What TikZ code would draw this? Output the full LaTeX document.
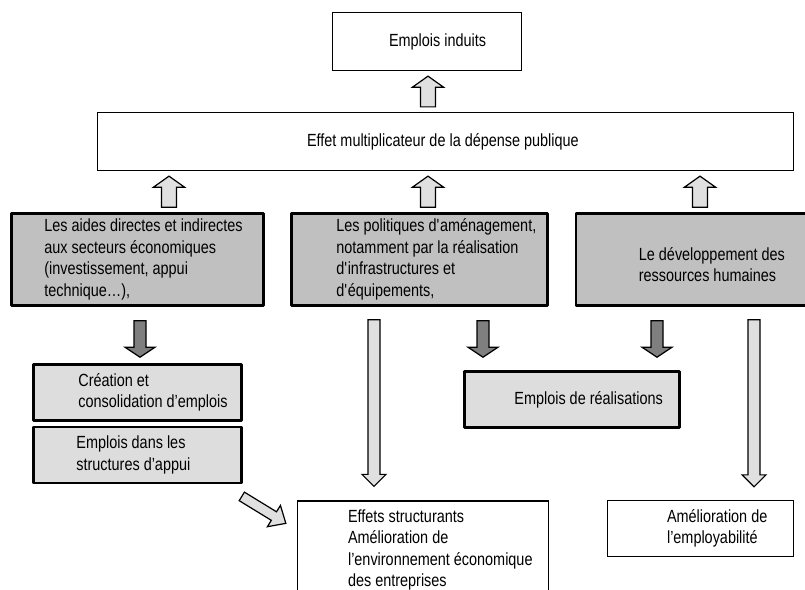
\documentclass[tikz,border=0pt]{standalone}
\usepackage{fontspec}
\setmainfont{Liberation Sans}[FakeStretch=0.82]
\usetikzlibrary{positioning,calc}
\definecolor{grisfonce}{HTML}{C0C0C0}
\definecolor{grisclair}{HTML}{DDDDDD}
\definecolor{flecheclair}{HTML}{E0E0E0}
\definecolor{flechefonce}{HTML}{7F7F7F}
\tikzset{
	%Define style for the framed boxes
	cadre/.style={
		rectangle,
		draw=black, line width=2.6pt,
		line join=round,
		fill=grisfonce},
	cadreclair/.style={cadre, fill=grisclair},
	blanc/.style={
		rectangle,
		draw=black, line width=1.3pt,
		fill=white},
	% Define style for the texts
	texte/.style={
		inner sep=0pt,
		align=left,
		font=\fontsize{17.6pt}{21.5pt}\selectfont},
	% Define style for the block arrows
	fleche/.style={
		draw=black, line width=1.2pt,
		line join=miter,
		fill=flecheclair},
	fleche fonce/.style={fleche, fill=flechefonce}
}
% block arrow: style, from, to, half shaft, half head, head length
\newcommand{\blocfleche}[6]{%
	\coordinate (ba) at (#2);
	\coordinate (bb) at (#3);
	\coordinate (bh) at ($(bb)!#6!(ba)$);
	\path[#1] ($(ba)!#4!90:(bb)$) -- ($(bh)!#4!90:(bb)$) -- ($(bh)!#5!90:(bb)$) -- (bb)
		-- ($(bh)!#5!-90:(bb)$) -- ($(bh)!#4!-90:(bb)$) -- ($(ba)!#4!-90:(bb)$) -- cycle;}

\begin{document}
\begin{tikzpicture}[x=1pt, y=-1pt]
	\clip (0,0) rectangle (805,589);

	\node[blanc, minimum width=189pt, minimum height=58pt] (induits) at (427,41.5) {};
	\node[texte, right = 57pt of induits.west] (induitsT) {Emplois induits};

	\node[blanc, minimum width=696pt, minimum height=58pt] (multi) at (445.5,141.5) {};
	\node[texte, right = 210pt of multi.west] (multiT) {Effet multiplicateur de la dépense publique};

	\node[cadre, minimum width=252pt, minimum height=92pt] (aides) at (137.5,259.5) {};
	\node[texte, right = 34pt of aides.west] (aidesT) {Les aides directes et indirectes\\ aux secteurs économiques\\ (investissement, appui\\ technique…),};

	\node[cadre, minimum width=256pt, minimum height=92pt] (polit) at (419.5,259.5) {};
	\node[texte, right = 46pt of polit.west] (politT) {Les politiques d\textquotesingle aménagement,\\ notamment par la réalisation\\ d\textquotesingle infrastructures et\\ d\textquotesingle équipements,};

	\node[cadre, minimum width=244pt, minimum height=92pt] (rh) at (698,259.5) {};
	\node[texte, right = 64pt of rh.west, yshift=-5pt] (rhT) {Le développement des\\ ressources humaines};

	\node[cadreclair, minimum width=208pt, minimum height=56pt] (creation) at (137.5,392.5) {};
	\node[texte, right = 46pt of creation.west] (creationT) {Création et\\ consolidation d’emplois};

	\node[cadreclair, minimum width=208pt, minimum height=56pt, below = 4pt of creation] (structures) {};
	\node[texte, right = 44pt of structures.west] (structuresT) {Emplois dans les\\ structures d’appui};

	\node[cadreclair, minimum width=215pt, minimum height=56pt] (realis) at (572,399.5) {};
	\node[texte, right = 51pt of realis.west] (realisT) {Emplois de réalisations};

	\node[blanc, minimum width=251pt, minimum height=120pt] (effets) at (423,561) {};
	\node[texte, below right = 9pt and 51pt of effets.north west] (effetsT) {Effets structurants\\ Amélioration de\\ l’environnement économique\\ des entreprises};

	\node[blanc, minimum width=186pt, minimum height=56pt] (employ) at (700.5,528.5) {};
	\node[texte, right = 60pt of employ.west] (employT) {Amélioration de\\ l’employabilité};

	% arrows up to the multiplier
	\blocfleche{fleche}{$(multi.north)+(-17.5,-5)$}{$(ba |- induits.south)+(0,5)$}{7.5pt}{15.5pt}{11pt}
	\blocfleche{fleche}{$(aides.north)+(31.5,-5)$}{$(ba |- multi.south)+(0,5)$}{7.5pt}{15.5pt}{11pt}
	\blocfleche{fleche}{$(polit.north)+(8.5,-5)$}{$(ba |- multi.south)+(0,5)$}{7.5pt}{15.5pt}{11pt}
	\blocfleche{fleche}{$(rh.north)+(2,-5)$}{$(ba |- multi.south)+(0,5)$}{7.5pt}{15.5pt}{11pt}

	% arrows down to the jobs
	\blocfleche{fleche fonce}{$(aides.south)+(2.5,14)$}{$(ba |- creation.north)+(0,-6)$}{6pt}{15pt}{10pt}
	\blocfleche{fleche fonce}{$(polit.south)+(63.5,14)$}{$(ba |- realis.north)+(0,-13)$}{6pt}{15pt}{10pt}
	\blocfleche{fleche fonce}{$(rh.south)+(-41,14)$}{$(ba |- realis.north)+(0,-13)$}{6pt}{15pt}{10pt}

	% long arrows to the effects
	\blocfleche{fleche}{$(polit.south)+(-45.5,13)$}{$(ba |- effets.north)+(0,-14)$}{6pt}{12pt}{12pt}
	\blocfleche{fleche}{$(rh.south)+(56,13)$}{$(ba |- employ.north)+(0,-13)$}{6pt}{12pt}{12pt}
	\blocfleche{fleche}{$(structures.south east)+(-1,12)$}{$(effets.north west)+(-11,23)$}{5pt}{12.5pt}{14pt}
\end{tikzpicture}
\end{document}
